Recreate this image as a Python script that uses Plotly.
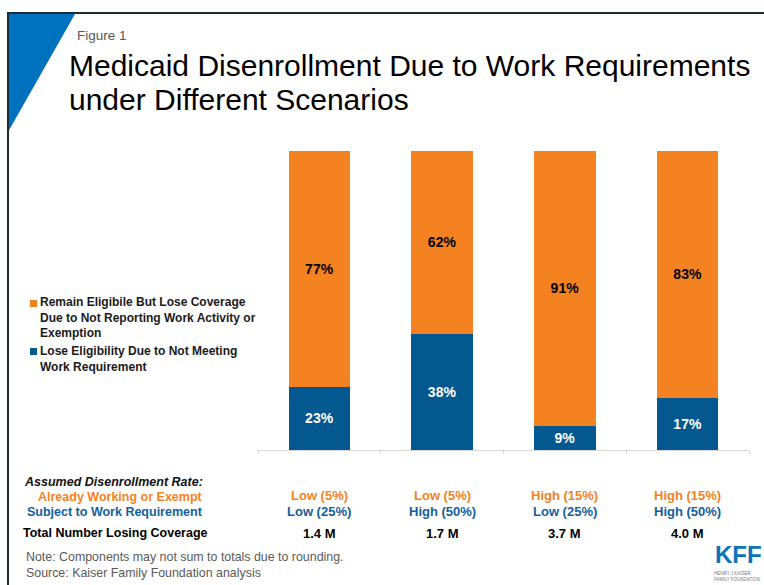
import plotly.graph_objects as go

# ---------------- data ----------------
scenarios = ["Low / Low", "Low / High", "High / Low", "High / High"]
lose_eligibility = [21.2, 38.8, 8.1, 17.5]          # blue segment share (%)
remain_eligible = [78.8, 61.2, 91.9, 82.5]          # orange segment share (%)
lose_eligibility_labels = ["23%", "38%", "9%", "17%"]
remain_eligible_labels = ["77%", "62%", "91%", "83%"]
working_exempt_rate = ["Low (5%)", "Low (5%)", "High (15%)", "High (15%)"]
work_req_rate = ["Low (25%)", "High (50%)", "Low (25%)", "High (50%)"]
total_losing = ["1.4 M", "1.7 M", "3.7 M", "4.0 M"]

series_names = [
    "Remain Eligibile But Lose Coverage<br>Due to Not Reporting Work Activity or<br>Exemption",
    "Lose Eligibility Due to Not Meeting<br>Work Requirement",
]

# ---------------- styling ----------------
ORANGE = "#F58220"
BLUE = "#03588F"
TXT_BLUE = "#13609E"
GRAY = "#595959"
NAVY = "#1C2B3C"
FONT = "Liberation Sans, Arial, sans-serif"

W, H = 764, 585
L, R, T, B = 258, 749, 151, 450


def px(x):
    return (x - L) / (R - L)


def py(y):
    return (B - y) / (B - T)


fig = go.Figure()
fig.add_trace(go.Bar(
    x=scenarios, y=lose_eligibility, name="Lose Eligibility",
    marker=dict(color=BLUE, line=dict(width=0)),
    text=lose_eligibility_labels, textposition="inside", insidetextanchor="middle",
    textangle=0, textfont=dict(family=FONT, size=14, color="white", weight="bold"),
    hoverinfo="skip", showlegend=False,
))
fig.add_trace(go.Bar(
    x=scenarios, y=remain_eligible, name="Remain Eligible",
    marker=dict(color=ORANGE, line=dict(width=0)),
    text=remain_eligible_labels, textposition="inside", insidetextanchor="middle",
    textangle=0, textfont=dict(family=FONT, size=14, color="black", weight="bold"),
    hoverinfo="skip", showlegend=False,
))

annotations = []
shapes = []

# Frame and corner triangle
shapes.append(dict(type="path", xref="paper", yref="paper",
                   path=f"M {px(8)} {py(14)} L {px(75)} {py(14)} L {px(8)} {py(132)} Z",
                   fillcolor="#0071BC", line=dict(width=0), layer="above"))
shapes.append(dict(type="path", xref="paper", yref="paper",
                   path=f"M {px(8)} {py(600)} L {px(8)} {py(13)} L {px(780)} {py(13)}",
                   line=dict(color=NAVY, width=2), layer="above"))

# Titles
annotations.append(dict(text="Figure 1", x=px(75), y=py(35), xref="paper", yref="paper",
                        xanchor="left", yanchor="middle", showarrow=False,
                        font=dict(family=FONT, size=13.5, color=GRAY)))
annotations.append(dict(text="Medicaid Disenrollment Due to Work Requirements", x=px(67), y=py(66),
                        xref="paper", yref="paper", xanchor="left", yanchor="middle", showarrow=False,
                        font=dict(family=FONT, size=30, color="black")))
annotations.append(dict(text="under Different Scenarios", x=px(67), y=py(100),
                        xref="paper", yref="paper", xanchor="left", yanchor="middle", showarrow=False,
                        font=dict(family=FONT, size=30, color="black")))

# Legend (manual)
legend_items = [(series_names[0], ORANGE, 300, 317), (series_names[1], BLUE, 348, 359)]
for name, col, sq_top, center in legend_items:
    shapes.append(dict(type="rect", xref="paper", yref="paper",
                       x0=px(30), x1=px(37), y0=py(sq_top), y1=py(sq_top + 7),
                       fillcolor=col, line=dict(width=0)))
    annotations.append(dict(text=name, x=px(38), y=py(center), xref="paper", yref="paper",
                            xanchor="left", yanchor="middle", align="left", showarrow=False,
                            font=dict(family=FONT, size=12, color="#1a1a1a", weight="bold")))

# Row headers
row_headers = [
    ("<i>Assumed Disenrollment Rate:</i>", 482, "#111111"),
    ("Already Working or Exempt", 497, ORANGE),
    ("Subject to Work Requirement", 512, TXT_BLUE),
]
for txt, yy, col in row_headers:
    annotations.append(dict(text=txt, x=px(205), y=py(yy), xref="paper", yref="paper",
                            xanchor="right", yanchor="middle", showarrow=False,
                            font=dict(family=FONT, size=12.5, color=col, weight="bold")))
annotations.append(dict(text="Total Number Losing Coverage", x=px(21), y=py(533), xref="paper", yref="paper",
                        xanchor="left", yanchor="middle", showarrow=False,
                        font=dict(family=FONT, size=12.5, color="black", weight="bold")))

# Column labels
for i, sc in enumerate(scenarios):
    annotations.append(dict(text=working_exempt_rate[i], x=sc, y=py(495), xref="x", yref="paper",
                            xanchor="center", yanchor="middle", showarrow=False,
                            font=dict(family=FONT, size=13, color=ORANGE, weight="bold")))
    annotations.append(dict(text=work_req_rate[i], x=sc, y=py(511), xref="x", yref="paper",
                            xanchor="center", yanchor="middle", showarrow=False,
                            font=dict(family=FONT, size=13, color=TXT_BLUE, weight="bold")))
    annotations.append(dict(text=total_losing[i], x=sc, y=py(533), xref="x", yref="paper",
                            xanchor="center", yanchor="middle", showarrow=False,
                            font=dict(family=FONT, size=13, color="black", weight="bold")))

# Notes
annotations.append(dict(text="Note: Components may not sum to totals due to rounding.<br>Source: Kaiser Family Foundation analysis",
                        x=px(24), y=py(565), xref="paper", yref="paper", xanchor="left", yanchor="middle",
                        align="left", showarrow=False,
                        font=dict(family=FONT, size=12.4, color=GRAY)))

# KFF logo
annotations.append(dict(text="<b>KFF</b>", x=px(738), y=py(554), xref="paper", yref="paper",
                        xanchor="center", yanchor="middle", showarrow=False,
                        font=dict(family="Liberation Sans Narrow, Liberation Sans, Arial", size=24, color="#0E72B8")))
annotations.append(dict(text="HENRY J KAISER<br>FAMILY FOUNDATION", x=px(712), y=py(576), xref="paper", yref="paper",
                        xanchor="left", yanchor="middle", align="left", showarrow=False,
                        font=dict(family=FONT, size=4.5, color="#777777")))

fig.update_layout(
    width=W, height=H, autosize=False,
    margin=dict(l=L, r=W - R, t=T, b=H - B, pad=0),
    barmode="stack", bargap=0.5,
    paper_bgcolor="white", plot_bgcolor="white",
    showlegend=False,
    xaxis=dict(type="category", range=[-0.5, 3.5], showticklabels=False,
               showline=True, linecolor="#D9D9D9", linewidth=1,
               ticks="outside", tickson="boundaries", ticklen=3, tickcolor="#D9D9D9",
               showgrid=False, zeroline=False, fixedrange=True),
    yaxis=dict(range=[0, 100], visible=False, showgrid=False, zeroline=False, fixedrange=True),
    annotations=annotations, shapes=shapes,
)

fig.write_html("out.html")
